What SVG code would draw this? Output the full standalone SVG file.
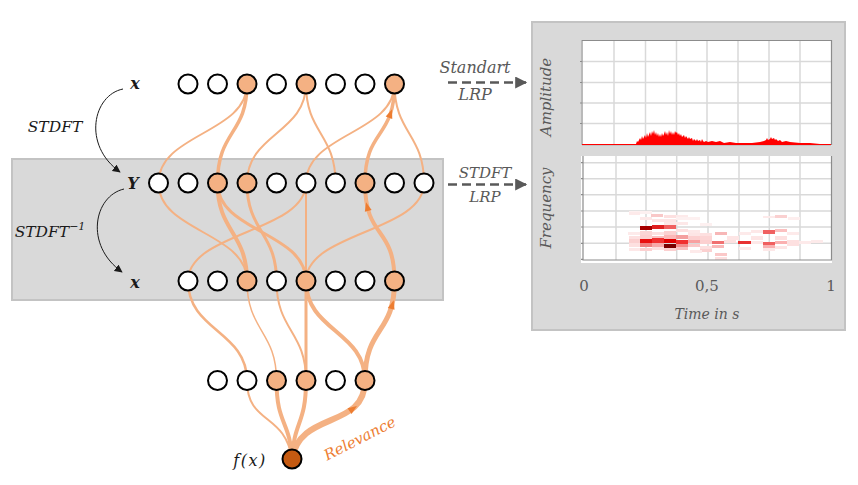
<svg xmlns="http://www.w3.org/2000/svg" width="858" height="485" viewBox="0 0 858 485">
<defs>
<style>
.panel{fill:#d9d9d9;stroke:#c3c3c3;stroke-width:2}
.e{fill:none;stroke:#f4b183;stroke-linecap:round}
.n{fill:#fff;stroke:#000;stroke-width:2}
.o{fill:#f4b183;stroke:#000;stroke-width:2}
.arr{fill:#ed7d31}
.lbl{font-family:"DejaVu Serif",serif;font-style:italic;fill:#1a1a1a}
.g{font-family:"DejaVu Serif",serif;font-style:italic;fill:#595959}
.num{font-family:"DejaVu Serif",serif;fill:#595959;font-size:15px;text-anchor:middle}
.grid{stroke:#d9d9d9;stroke-width:1.5}
.ax{stroke:#8c8c8c;stroke-width:1.2;fill:none}
.dash{stroke:#595959;stroke-width:2.5;stroke-dasharray:9,5;fill:none}
.blk{fill:none;stroke:#1a1a1a;stroke-width:1}
</style>
<marker id="mk" viewBox="0 0 10 10" refX="9" refY="5" markerWidth="8" markerHeight="8" markerUnits="userSpaceOnUse" orient="auto">
<path d="M0,0 L10,5 L0,10 z" fill="#1a1a1a"/>
</marker>
<marker id="mg" viewBox="0 0 10 10" refX="9" refY="5" markerWidth="13" markerHeight="12" markerUnits="userSpaceOnUse" orient="auto">
<path d="M0,0 L10,5 L0,10 z" fill="#595959"/>
</marker>
</defs>

<rect id="stft-band" class="panel" x="12" y="159" width="431" height="141"/>

<g id="connectors">
<path class="e" stroke-width="2" d="M247,84 C247,133.5 158.5,133.5 158.5,183"/>
<path class="e" stroke-width="3.5" d="M247,84 C247,135 217.5,130 217.5,183"/>
<path class="e" stroke-width="2" d="M306,84 C306,133.5 247,133.5 247,183"/>
<path class="e" stroke-width="2" d="M306,84 C306,133.5 335.5,133.5 335.5,183"/>
<path class="e" stroke-width="2" d="M394.5,84 C394.5,133.5 306,133.5 306,183"/>
<path class="e" stroke-width="3.5" d="M394.5,84 C394.5,140 365,128 365,183"/>
<path class="e" stroke-width="2" d="M394.5,84 C394.5,133.5 424,133.5 424,183"/>
<path class="e" stroke-width="2" d="M158.5,183 C158.5,232 247,232 247,281"/>
<path class="e" stroke-width="4" d="M217.5,183 C217.5,232 247,232 247,281"/>
<path class="e" stroke-width="3" d="M217.5,183 C217.5,232 306,232 306,281"/>
<path class="e" stroke-width="3" d="M247,183 C247,232 276.5,232 276.5,281"/>
<path class="e" stroke-width="2" d="M306,183 C306,232 188,232 188,281"/>
<path class="e" stroke-width="2" d="M306,183 L306,281"/>
<path class="e" stroke-width="4" d="M365,183 C365,240 394.5,225 394.5,281"/>
<path class="e" stroke-width="2" d="M424,183 C424,232 306,232 306,281"/>
<path class="e" stroke-width="2.5" d="M188,281 C188,331 247,331 247,380.5"/>
<path class="e" stroke-width="1.5" d="M247,281 C247,331 276.5,331 276.5,380.5"/>
<path class="e" stroke-width="2" d="M276.5,281 C276.5,331 306,331 306,380.5"/>
<path class="e" stroke-width="3" d="M306,281 L306,380.5"/>
<path class="e" stroke-width="4" d="M306,281 C306,331 365,331 365,380.5"/>
<path class="e" stroke-width="5" d="M394.5,281 C394.5,335 365,326 365,380.5"/>
<path class="e" stroke-width="2" d="M247,380.5 C247,425 285,412 292,459"/>
<path class="e" stroke-width="4" d="M276.5,380.5 C276.5,425 290,420 292,459"/>
<path class="e" stroke-width="4" d="M306,380.5 C306,425 294,420 292,459"/>
<path class="e" stroke-width="6" d="M365,380.5 C365,430 300,410 292,459"/>
<polygon class="arr" points="0,-6 3.5,3 -3.5,3" transform="translate(390,115) rotate(20)"/>
<polygon class="arr" points="0,-6 3.5,3 -3.5,3" transform="translate(367.5,208) rotate(-14)"/>
<polygon class="arr" points="0,-6 3.5,3 -3.5,3" transform="translate(392,306) rotate(16)"/>
<polygon class="arr" points="0,-6 3.5,3 -3.5,3" transform="translate(352,409.5) rotate(55)"/>
<path class="blk" marker-end="url(#mk)" d="M123,89 C93,95 82,145 120,172"/>
<path class="blk" marker-end="url(#mk)" d="M124,189 C94,196 84,245 122,272"/>
<path class="dash" marker-end="url(#mg)" d="M448,82.5 H526"/>
<path class="dash" marker-end="url(#mg)" d="M448,184.5 H526"/>
</g>

<g id="layer-x-in">
<circle class="n" cx="188" cy="84" r="9.5"/>
<circle class="n" cx="217.5" cy="84" r="9.5"/>
<circle class="o" cx="247" cy="84" r="9.5"/>
<circle class="n" cx="276.5" cy="84" r="9.5"/>
<circle class="o" cx="306" cy="84" r="9.5"/>
<circle class="n" cx="335.5" cy="84" r="9.5"/>
<circle class="n" cx="365" cy="84" r="9.5"/>
<circle class="o" cx="394.5" cy="84" r="9.5"/>
</g>
<g id="layer-Y">
<circle class="n" cx="158.5" cy="183" r="9.5"/>
<circle class="n" cx="188" cy="183" r="9.5"/>
<circle class="o" cx="217.5" cy="183" r="9.5"/>
<circle class="o" cx="247" cy="183" r="9.5"/>
<circle class="n" cx="276.5" cy="183" r="9.5"/>
<circle class="n" cx="306" cy="183" r="9.5"/>
<circle class="n" cx="335.5" cy="183" r="9.5"/>
<circle class="o" cx="365" cy="183" r="9.5"/>
<circle class="n" cx="394.5" cy="183" r="9.5"/>
<circle class="n" cx="424" cy="183" r="9.5"/>
</g>
<g id="layer-x-out">
<circle class="n" cx="188" cy="281" r="9.5"/>
<circle class="n" cx="217.5" cy="281" r="9.5"/>
<circle class="o" cx="247" cy="281" r="9.5"/>
<circle class="n" cx="276.5" cy="281" r="9.5"/>
<circle class="o" cx="306" cy="281" r="9.5"/>
<circle class="n" cx="335.5" cy="281" r="9.5"/>
<circle class="n" cx="365" cy="281" r="9.5"/>
<circle class="o" cx="394.5" cy="281" r="9.5"/>
</g>
<g id="layer-hidden">
<circle class="n" cx="217.5" cy="380.5" r="9.5"/>
<circle class="n" cx="247" cy="380.5" r="9.5"/>
<circle class="o" cx="276.5" cy="380.5" r="9.5"/>
<circle class="o" cx="306" cy="380.5" r="9.5"/>
<circle class="n" cx="335.5" cy="380.5" r="9.5"/>
<circle class="o" cx="365" cy="380.5" r="9.5"/>
</g>
<g id="output-node">
<circle cx="292" cy="459" r="9.5" fill="#c55a11" stroke="#000" stroke-width="2"/>
<text class="lbl" x="250" y="466" font-size="16" text-anchor="middle" letter-spacing="1.5">f(x)</text>
</g>

<g id="left-labels">
<text class="lbl" x="135" y="89" font-size="16" font-weight="bold" text-anchor="middle">x</text>
<text class="lbl" x="55" y="132" font-size="15.5" text-anchor="middle">STDFT</text>
<text class="lbl" x="133" y="189" font-size="16" font-weight="bold" text-anchor="middle">Y</text>
<text class="lbl" x="50" y="237" font-size="15.5" text-anchor="middle">STDFT<tspan font-size="11" dy="-7">−1</tspan></text>
<text class="lbl" x="135" y="288" font-size="16" font-weight="bold" text-anchor="middle">x</text>
</g>

<text id="relevance" font-family="DejaVu Serif, serif" font-style="italic" font-size="15" fill="#ed7d31" text-anchor="middle" transform="translate(362,443) rotate(-27)">Relevance</text>

<g id="arrow-labels">
<text class="g" x="475" y="73" font-size="16" text-anchor="middle">Standart</text>
<text class="g" x="475" y="100" font-size="16" text-anchor="middle">LRP</text>
<text class="g" x="485" y="177.5" font-size="15" text-anchor="middle">STDFT</text>
<text class="g" x="485" y="202" font-size="15" text-anchor="middle">LRP</text>
</g>

<g id="result-panel">
<rect class="panel" x="532" y="22" width="313" height="308"/>
<rect x="581" y="40" width="251" height="106" fill="#fff"/>
<g class="grid">
<line x1="614" y1="40" x2="614" y2="145"/><line x1="645.5" y1="40" x2="645.5" y2="145"/>
<line x1="676.5" y1="40" x2="676.5" y2="145"/><line x1="707" y1="40" x2="707" y2="145"/>
<line x1="738" y1="40" x2="738" y2="145"/><line x1="769" y1="40" x2="769" y2="145"/>
<line x1="800" y1="40" x2="800" y2="145"/>
<line x1="582" y1="61.5" x2="831" y2="61.5"/><line x1="582" y1="82.5" x2="831" y2="82.5"/>
<line x1="582" y1="103" x2="831" y2="103"/><line x1="582" y1="123.5" x2="831" y2="123.5"/>
</g>
<path class="ax" d="M582,40.5 H831.5 V145 M582,40 V145 H831.5 M580,61.5 H582 M580,82.5 H582 M580,103 H582 M580,123.5 H582"/>
<polygon fill="#ff0000" points="582,144 636,144 637,141 638,142 640,138 641,140 642,136 643,139 645,135 646,138 647,133 648,137 650,132 651,136 652,131 653,134 654,130 655,135 656,132 657,136 658,133 659,137 660,134 661,137 662,133 663,136 664,134 665,131 666,135 667,132 668,136 669,130 670,134 671,131 672,135 673,132 674,135 675,131 676,133 677,132 678,135 679,133 680,136 681,134 682,137 684,135 685,138 686,136 688,139 689,137 690,139 692,138 693,141 694,139 696,141 697,139 698,141 700,140 701,142 702,139 703,141 704,142 706,141 708,142 712,141 716,142 720,141 724,143 730,142 736,143 744,143 752,143 760,142 764,141 766,140 767,138 768,140 770,139 771,137 772,139 774,138 775,140 776,139 778,141 780,140 782,142 786,141 790,142 800,143 810,143 820,144 831,144 831,145 582,145"/>

<rect x="581" y="156" width="251" height="107" fill="#fff"/>
<g class="grid">
<line x1="616" y1="156" x2="616" y2="260"/><line x1="646" y1="156" x2="646" y2="260"/>
<line x1="676.7" y1="156" x2="676.7" y2="260"/><line x1="708" y1="156" x2="708" y2="260"/>
<line x1="739" y1="156" x2="739" y2="260"/><line x1="769.3" y1="156" x2="769.3" y2="260"/>
<line x1="800" y1="156" x2="800" y2="260"/>
<line x1="583" y1="162.7" x2="831" y2="162.7"/><line x1="583" y1="178.7" x2="831" y2="178.7"/>
<line x1="583" y1="194.7" x2="831" y2="194.7"/><line x1="583" y1="211" x2="831" y2="211"/>
<line x1="583" y1="227" x2="831" y2="227"/><line x1="583" y1="243.3" x2="831" y2="243.3"/>
</g>
<g id="heatmap">
<rect x="629" y="211" width="23" height="3" fill="#fdf0f0"/>
<rect x="640" y="217" width="12" height="3" fill="#fde8e8"/>
<rect x="676" y="217" width="24" height="3" fill="#fdf0f0"/>
<rect x="788" y="217" width="12" height="3" fill="#fdeeee"/>
<rect x="664" y="222" width="24" height="3" fill="#fde8e8"/>
<rect x="700" y="223" width="12" height="3" fill="#fdf0f0"/>
<rect x="628" y="232" width="12" height="3" fill="#fdeaea"/>
<rect x="640" y="231" width="12" height="4" fill="#fbd5d5"/>
<rect x="652" y="232" width="12" height="3" fill="#fde0e0"/>
<rect x="664" y="231" width="12" height="4" fill="#fcd0d0"/>
<rect x="688" y="233" width="12" height="3" fill="#fde5e5"/>
<rect x="700" y="233" width="12" height="3" fill="#fde0e0"/>
<rect x="739" y="232" width="12" height="3" fill="#fdeaea"/>
<rect x="787" y="232" width="12" height="3" fill="#fdeaea"/>
<rect x="629" y="236" width="11" height="3" fill="#fde0e0"/>
<rect x="640" y="235" width="12" height="4" fill="#fcd0d0"/>
<rect x="664" y="235" width="12" height="4" fill="#fbb8b8"/>
<rect x="688" y="236" width="12" height="4" fill="#fcd0d0"/>
<rect x="700" y="236" width="12" height="4" fill="#fcd5d5"/>
<rect x="727" y="236" width="12" height="4" fill="#fde5e5"/>
<rect x="751" y="236" width="12" height="4" fill="#fde5e5"/>
<rect x="775" y="236" width="12" height="4" fill="#fde0e0"/>
<rect x="629" y="248" width="11" height="3" fill="#fde8e8"/>
<rect x="640" y="248" width="12" height="3" fill="#fcd0d0"/>
<rect x="664" y="248" width="12" height="3" fill="#fcd0d0"/>
<rect x="700" y="249" width="12" height="3" fill="#fbd0d0"/>
<rect x="739" y="247" width="12" height="3" fill="#fde8e8"/>
<rect x="763" y="248" width="12" height="3" fill="#fde8e8"/>
<rect x="775" y="246" width="12" height="3" fill="#fde5e5"/>
<rect x="629" y="212" width="11" height="3" fill="#fdeaea"/>
<rect x="651" y="214" width="12" height="3" fill="#f9c8c8"/>
<rect x="664" y="215" width="12" height="3" fill="#fde0e0"/>
<rect x="676" y="215" width="12" height="2" fill="#fdeaea"/>
<rect x="763" y="216" width="12" height="2" fill="#fdeaea"/>
<rect x="775" y="215" width="12" height="3" fill="#fad0d0"/>
<rect x="652" y="219" width="24" height="3" fill="#fde5e5"/>
<rect x="676" y="229" width="12" height="3" fill="#fde0e0"/>
<rect x="688" y="230" width="12" height="3" fill="#fde8e8"/>
<rect x="715" y="232" width="12" height="3" fill="#f7b7b7"/>
<rect x="751" y="230" width="12" height="3" fill="#fde8e8"/>
<rect x="763" y="230" width="12" height="4" fill="#f06060"/>
<rect x="775" y="229" width="12" height="3" fill="#fbc0c0"/>
<rect x="640" y="226" width="12" height="4" fill="#a50000"/>
<rect x="652" y="225" width="12" height="4" fill="#e02020"/>
<rect x="664" y="225" width="12" height="4" fill="#f06060"/>
<rect x="652" y="236" width="12" height="3" fill="#fbc0c0"/>
<rect x="676" y="235" width="12" height="4" fill="#f4a0a0"/>
<rect x="629" y="239" width="11" height="5" fill="#fbd0d0"/>
<rect x="640" y="239" width="12" height="4" fill="#e81010"/>
<rect x="652" y="238" width="12" height="5" fill="#f03030"/>
<rect x="664" y="239" width="12" height="4" fill="#e00000"/>
<rect x="676" y="240" width="12" height="4" fill="#f03030"/>
<rect x="688" y="240" width="12" height="3" fill="#f8a0a0"/>
<rect x="700" y="240" width="12" height="4" fill="#fcd0d0"/>
<rect x="712" y="241" width="12" height="3" fill="#f07070"/>
<rect x="724" y="240" width="12" height="3" fill="#fde0e0"/>
<rect x="738" y="241" width="13" height="3" fill="#e83030"/>
<rect x="751" y="241" width="12" height="3" fill="#fde8e8"/>
<rect x="763" y="242" width="12" height="3" fill="#f06060"/>
<rect x="775" y="241" width="12" height="3" fill="#fbb0b0"/>
<rect x="787" y="240" width="12" height="3" fill="#fde0e0"/>
<rect x="799" y="241" width="12" height="3" fill="#fdeaea"/>
<rect x="811" y="240" width="12" height="3" fill="#fdeaea"/>
<rect x="629" y="243" width="11" height="4" fill="#fde0e0"/>
<rect x="640" y="243" width="12" height="4" fill="#f08080"/>
<rect x="652" y="243" width="12" height="4" fill="#f7a8a8"/>
<rect x="664" y="244" width="12" height="4" fill="#7a0000"/>
<rect x="676" y="244" width="12" height="3" fill="#f28c8c"/>
<rect x="688" y="244" width="12" height="3" fill="#fbc8c8"/>
<rect x="712" y="245" width="12" height="3" fill="#f9b8b8"/>
<rect x="652" y="247" width="12" height="3" fill="#fde0e0"/>
<rect x="676" y="247" width="12" height="3" fill="#f9c0c0"/>
<rect x="690" y="250" width="12" height="3" fill="#fdeaea"/>
<rect x="700" y="246" width="12" height="3" fill="#fde0e0"/>
<rect x="763" y="245" width="12" height="3" fill="#f9b0b0"/>
<rect x="787" y="243" width="12" height="3" fill="#fde0e0"/>
<rect x="715" y="253" width="12" height="3" fill="#fbc8c8"/>
<rect x="715" y="257" width="12" height="3" fill="#fde0e0"/>
</g>
<path class="ax" d="M583,156 V260 H831.5 V156 M581,162.7 H583 M581,178.7 H583 M581,194.7 H583 M581,211 H583 M581,227 H583 M581,243.3 H583 M581,259.3 H583"/>

<text class="g" font-size="15" text-anchor="middle" transform="translate(551,97) rotate(-90)">Amplitude</text>
<text class="g" font-size="15" text-anchor="middle" transform="translate(551,208) rotate(-90)">Frequency</text>
<text class="num" x="584" y="291">0</text>
<text class="num" x="707" y="291">0,5</text>
<text class="num" x="831" y="291">1</text>
<text class="g" x="707" y="319" font-size="14" text-anchor="middle">Time in s</text>
</g>
</svg>
